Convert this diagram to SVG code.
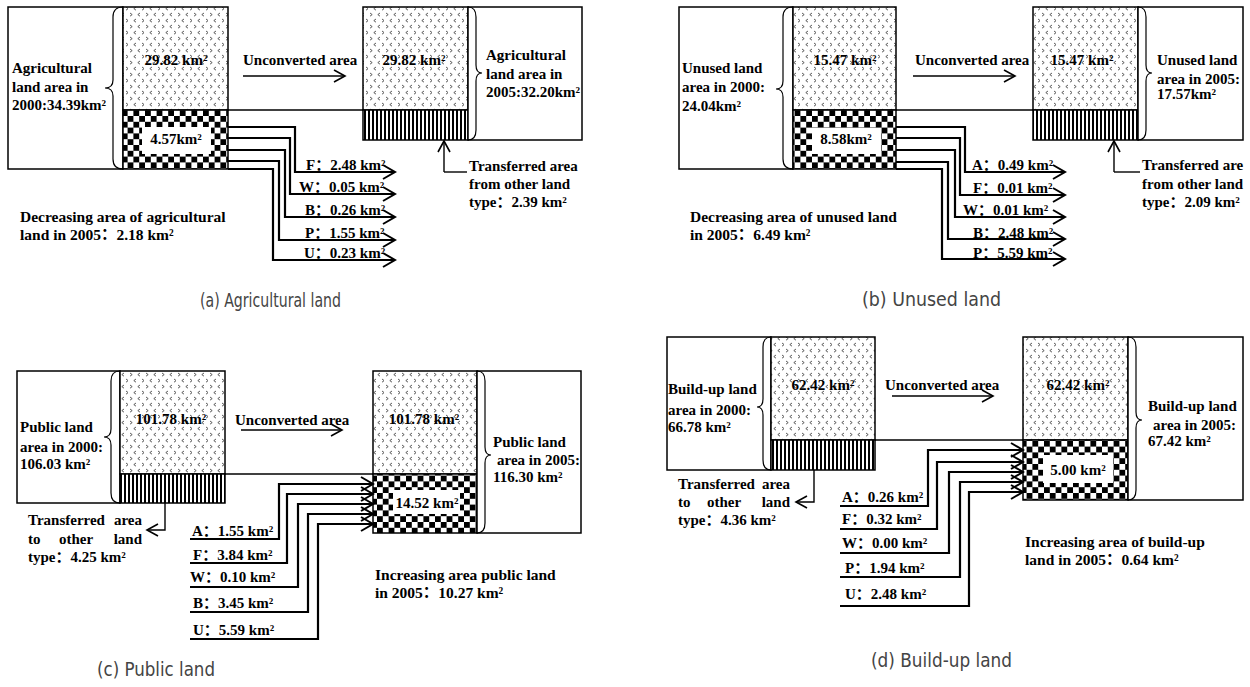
<svg xmlns="http://www.w3.org/2000/svg" width="1250" height="687" viewBox="0 0 1250 687">
<style>
.t{font-family:"Liberation Serif","Noto Sans CJK SC",serif;font-weight:bold;font-size:15px;fill:#000}
.b{font-size:15.5px}
.m{text-anchor:middle}
.e{text-anchor:end}
.cap{font-family:"Liberation Sans Narrow","DejaVu Sans Condensed","Liberation Sans",sans-serif;font-size:19px;fill:#444}
.box{fill:#fff;stroke:#000;stroke-width:1.5}
.dots{fill:url(#dots);stroke:#000;stroke-width:1.5}
.chk{fill:url(#chk);stroke:#000;stroke-width:1.5}
.str{fill:url(#str);stroke:#000;stroke-width:1.5}
.wht{fill:#fff;stroke:none}
.flow{fill:none;stroke:#000;stroke-width:2.2;marker-end:url(#ch)}
.arr{fill:none;stroke:#000;stroke-width:1.4;marker-end:url(#chs)}
.ln{fill:none;stroke:#000;stroke-width:1.4}
.br{fill:none;stroke:#000;stroke-width:1.2}
</style>
<defs>
<pattern id="dots" width="16" height="12" patternUnits="userSpaceOnUse">
<rect width="16" height="12" fill="#fff"/>
<path d="M2,1 l2.2,1.6 l-2.2,1.6 M12,1 l-2.2,1.6 l2.2,1.6 M8,7 l-2.2,1.6 l2.2,1.6 M14,7 l2.2,1.6 l-2.2,1.6" stroke="#333" stroke-width="0.8" fill="none"/>
</pattern>
<pattern id="chk" width="11.6" height="11.6" patternUnits="userSpaceOnUse">
<rect width="11.6" height="11.6" fill="#fff"/>
<rect width="5.8" height="5.8" fill="#000"/>
<rect x="5.8" y="5.8" width="5.8" height="5.8" fill="#000"/>
</pattern>
<pattern id="str" width="4" height="10" patternUnits="userSpaceOnUse">
<rect width="4" height="10" fill="#fff"/>
<rect width="2" height="10" fill="#000"/>
</pattern>
<marker id="ch" markerUnits="userSpaceOnUse" markerWidth="16" markerHeight="18" refX="13" refY="8" orient="auto">
<path d="M1,1 L13,8 L1,15" fill="none" stroke="#000" stroke-width="2"/>
</marker>
<marker id="chs" markerUnits="userSpaceOnUse" markerWidth="16" markerHeight="16" refX="12" refY="7" orient="auto">
<path d="M1,1 L12,7 L1,13" fill="none" stroke="#000" stroke-width="1.6"/>
</marker>
</defs>

<!-- Panel (a) -->
<g id="a-left">
<rect class="box" x="8" y="7" width="115" height="162"/>
<path class="br" d="M123,7 Q113,7 113,17 L113,80 Q113,88 105,88 Q113,88 113,96 L113,159 Q113,169 123,169"/>
<text class="t" x="12" y="73">Agricultural</text>
<text class="t" x="12" y="92">land area in</text>
<text class="t" x="12" y="110">2000:34.39km²</text>
</g>
<g id="a-bar2000">
<rect class="dots" x="123" y="7" width="105" height="103"/>
<rect class="chk" x="123" y="110" width="105" height="59"/>
<rect class="wht" x="142" y="127" width="69" height="27"/>
<text class="t m" x="176" y="65">29.82 km²</text>
<text class="t m" x="176" y="144">4.57km²</text>
</g>
<g id="a-bar2005">
<rect class="dots" x="363" y="7" width="105" height="103"/>
<rect class="str" x="363" y="110" width="105" height="30"/>
<text class="t m" x="414" y="65">29.82 km²</text>
</g>
<g id="a-right">
<rect class="box" x="468" y="7" width="114" height="133"/>
<path class="br" d="M468,7 Q476,7 476,17 L476,65 Q476,73 482,73 Q476,73 476,81 L476,130 Q476,140 468,140"/>
<text class="t" x="486" y="60">Agricultural</text>
<text class="t" x="486" y="79">land area in</text>
<text class="t" x="486" y="97">2005:32.20km²</text>
</g>
<g id="a-labels">
<text class="t" x="243" y="65">Unconverted area</text>
<text class="t" x="469" y="171">Transferred area</text>
<text class="t" x="469" y="189">from other land</text>
<text class="t" x="469" y="207">type：2.39 km²</text>
<text class="t" x="306" y="170">F：2.48 km²</text>
<text class="t" x="299" y="192">W：0.05 km²</text>
<text class="t" x="305" y="215">B：0.26 km²</text>
<text class="t" x="305" y="238">P：1.55 km²</text>
<text class="t" x="304" y="258">U：0.23 km²</text>
<text class="t b" x="20" y="222">Decreasing area of agricultural</text>
<text class="t b" x="20" y="240">land in 2005：2.18 km²</text>
<text class="cap" x="200" y="307" textLength="141" lengthAdjust="spacingAndGlyphs">(a) Agricultural land</text>
</g>

<!-- Panel (b) -->
<g id="b-left">
<rect class="box" x="679" y="7" width="114" height="162"/>
<path class="br" d="M793,7 Q783,7 783,17 L783,81 Q783,89 776,89 Q783,89 783,97 L783,159 Q783,169 793,169"/>
<text class="t" x="682" y="73">Unused land</text>
<text class="t" x="682" y="92">area in 2000:</text>
<text class="t" x="682" y="111">24.04km²</text>
</g>
<g id="b-bar2000">
<rect class="dots" x="793" y="7" width="103" height="103"/>
<rect class="chk" x="793" y="110" width="103" height="59"/>
<rect class="wht" x="812" y="128" width="69" height="26"/>
<text class="t m" x="845" y="65">15.47 km²</text>
<text class="t m" x="846" y="144">8.58km²</text>
</g>
<g id="b-bar2005">
<rect class="dots" x="1033" y="7" width="105" height="103"/>
<rect class="str" x="1033" y="110" width="105" height="30"/>
<text class="t m" x="1082" y="65">15.47 km²</text>
</g>
<g id="b-right">
<rect class="box" x="1138" y="7" width="105" height="133"/>
<path class="br" d="M1138,7 Q1146,7 1146,17 L1146,65 Q1146,73 1152,73 Q1146,73 1146,81 L1146,130 Q1146,140 1138,140"/>
<text class="t" x="1157" y="65">Unused land</text>
<text class="t" x="1157" y="84">area in 2005:</text>
<text class="t" x="1157" y="99">17.57km²</text>
</g>
<g id="b-labels">
<text class="t" x="915" y="65">Unconverted area</text>
<text class="t" x="1142" y="170">Transferred are</text>
<text class="t" x="1142" y="189">from other land</text>
<text class="t" x="1142" y="207">type：2.09 km²</text>
<text class="t" x="972" y="170">A：0.49 km²</text>
<text class="t" x="973" y="193">F：0.01 km²</text>
<text class="t" x="963" y="215">W：0.01 km²</text>
<text class="t" x="973" y="238">B：2.48 km²</text>
<text class="t" x="973" y="258">P：5.59 km²</text>
<text class="t b" x="690" y="222">Decreasing area of unused land</text>
<text class="t b" x="690" y="240">in 2005：6.49 km²</text>
<text class="cap" x="862" y="306" textLength="139" lengthAdjust="spacingAndGlyphs">(b) Unused land</text>
</g>

<!-- Panel (c) -->
<g id="c-left">
<rect class="box" x="17" y="371" width="103" height="132"/>
<path class="br" d="M120,371 Q111,371 111,381 L111,429 Q111,437 104,437 Q111,437 111,445 L111,493 Q111,503 120,503"/>
<text class="t" x="20" y="432">Public land</text>
<text class="t" x="20" y="452">area in 2000:</text>
<text class="t" x="20" y="469">106.03 km²</text>
</g>
<g id="c-bar2000">
<rect class="dots" x="120" y="371" width="105" height="103"/>
<rect class="str" x="120" y="474" width="105" height="29"/>
<text class="t m" x="171" y="424">101.78 km²</text>
</g>
<g id="c-bar2005">
<rect class="dots" x="373" y="371" width="104" height="103"/>
<rect class="chk" x="373" y="474" width="104" height="59"/>
<rect class="wht" x="393" y="490" width="67" height="24"/>
<text class="t m" x="424" y="424">101.78 km²</text>
<text class="t m" x="427" y="508">14.52 km²</text>
</g>
<g id="c-right">
<rect class="box" x="477" y="371" width="104" height="162"/>
<path class="br" d="M477,371 Q485,371 485,381 L485,447 Q485,455 491,455 Q485,455 485,463 L485,523 Q485,533 477,533"/>
<text class="t" x="493" y="447">Public land</text>
<text class="t" x="497" y="465">area in 2005:</text>
<text class="t" x="493" y="482">116.30 km²</text>
</g>
<g id="c-labels">
<text class="t" x="235" y="425">Unconverted area</text>
<text class="t" y="525"><tspan x="28">Transferred</tspan><tspan x="142" text-anchor="end">area</tspan></text>
<text class="t" y="544"><tspan x="28">to</tspan><tspan x="59">other</tspan><tspan x="142" text-anchor="end">land</tspan></text>
<text class="t" x="28" y="562">type：4.25 km²</text>
<text class="t" x="192" y="536">A：1.55 km²</text>
<text class="t" x="193" y="560">F：3.84 km²</text>
<text class="t" x="190" y="582">W：0.10 km²</text>
<text class="t" x="193" y="608">B：3.45 km²</text>
<text class="t" x="193" y="635">U：5.59 km²</text>
<text class="t b" x="375" y="580">Increasing area public land</text>
<text class="t b" x="375" y="598">in 2005：10.27 km²</text>
<text class="cap" x="97" y="676" textLength="118" lengthAdjust="spacingAndGlyphs">(c) Public land</text>
</g>

<!-- Panel (d) -->
<g id="d-left">
<rect class="box" x="667" y="337" width="104" height="133"/>
<path class="br" d="M771,337 Q763,337 763,347 L763,399 Q763,407 757,407 Q763,407 763,415 L763,460 Q763,470 771,470"/>
<text class="t" x="668" y="394">Build-up land</text>
<text class="t" x="668" y="415">area in 2000:</text>
<text class="t" x="668" y="432">66.78 km²</text>
</g>
<g id="d-bar2000">
<rect class="dots" x="771" y="337" width="104" height="103"/>
<rect class="str" x="771" y="440" width="104" height="30"/>
<text class="t m" x="823" y="390">62.42 km²</text>
</g>
<g id="d-bar2005">
<rect class="dots" x="1023" y="337" width="105" height="103"/>
<rect class="chk" x="1023" y="440" width="105" height="60"/>
<rect class="wht" x="1043" y="455" width="70" height="28"/>
<text class="t m" x="1078" y="390">62.42 km²</text>
<text class="t m" x="1078" y="475">5.00 km²</text>
</g>
<g id="d-right">
<rect class="box" x="1128" y="337" width="115" height="163"/>
<path class="br" d="M1128,337 Q1136,337 1136,347 L1136,412 Q1136,420 1142,420 Q1136,420 1136,428 L1136,490 Q1136,500 1128,500"/>
<text class="t" x="1148" y="411">Build-up land</text>
<text class="t" x="1153" y="430">area in 2005:</text>
<text class="t" x="1148" y="446">67.42 km²</text>
</g>
<g id="d-labels">
<text class="t" x="885" y="390">Unconverted area</text>
<text class="t" y="489"><tspan x="678">Transferred</tspan><tspan x="790" text-anchor="end">area</tspan></text>
<text class="t" y="507"><tspan x="678">to</tspan><tspan x="707">other</tspan><tspan x="790" text-anchor="end">land</tspan></text>
<text class="t" x="678" y="525">type：4.36 km²</text>
<text class="t" x="842" y="502">A：0.26 km²</text>
<text class="t" x="842" y="524">F：0.32 km²</text>
<text class="t" x="842" y="548">W：0.00 km²</text>
<text class="t" x="845" y="573">P：1.94 km²</text>
<text class="t" x="845" y="599">U：2.48 km²</text>
<text class="t b" x="1025" y="547">Increasing area of build-up</text>
<text class="t b" x="1025" y="565">land in 2005：0.64 km²</text>
<text class="cap" x="871" y="667" textLength="141" lengthAdjust="spacingAndGlyphs">(d) Build-up land</text>
</g>

<g id="connectors">
<!-- (a) -->
<path class="arr" d="M243,76 H345"/>
<path class="ln" d="M228,110 H363"/>
<path class="flow" d="M228,127 H295 V172 H395"/>
<path class="flow" d="M228,138 H290 V194 H395"/>
<path class="flow" d="M228,150 H285 V217 H395"/>
<path class="flow" d="M228,161 H279 V240 H395"/>
<path class="flow" d="M228,169 H273 V260 H395"/>
<path class="ln" d="M467,172 H444"/>
<path class="arr" d="M444,172 V141"/>
<!-- (b) -->
<path class="arr" d="M913,76 H1015"/>
<path class="ln" d="M896,110 H1033"/>
<path class="flow" d="M896,127 H965 V172 H1065"/>
<path class="flow" d="M896,138 H960 V195 H1065"/>
<path class="flow" d="M896,150 H955 V217 H1065"/>
<path class="flow" d="M896,162 H948 V239 H1065"/>
<path class="flow" d="M896,169 H942 V259 H1065"/>
<path class="ln" d="M1140,172 H1114"/>
<path class="arr" d="M1114,172 V141"/>
<!-- (c) -->
<path class="arr" d="M241,430 H342"/>
<path class="ln" d="M225,474 H373"/>
<path class="flow" d="M190,539 H279 V484 H373"/>
<path class="flow" d="M190,563 H287 V494 H373"/>
<path class="flow" d="M190,587 H298 V504 H373"/>
<path class="flow" d="M190,612 H308 V514 H373"/>
<path class="flow" d="M190,639 H318 V524 H373"/>
<path class="arr" d="M165,503 V530 H147"/>
<!-- (d) -->
<path class="arr" d="M892,396 H993"/>
<path class="ln" d="M875,440 H1023"/>
<path class="flow" d="M840,506 H928 V450 H1023"/>
<path class="flow" d="M840,529 H937 V462 H1023"/>
<path class="flow" d="M840,553 H949 V472 H1023"/>
<path class="flow" d="M840,577 H960 V482 H1023"/>
<path class="flow" d="M840,606 H969 V492 H1023"/>
<path class="arr" d="M814,470 V502 H796"/>
</g>
</svg>
